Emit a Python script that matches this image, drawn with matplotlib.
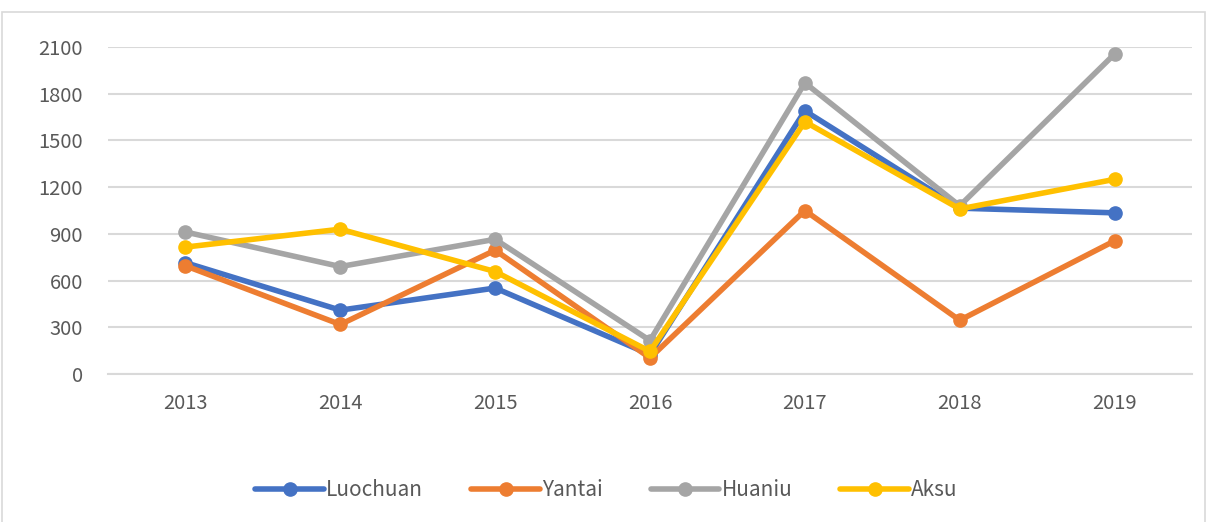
import matplotlib.pyplot as plt
from matplotlib.patches import Rectangle

years = ["2013", "2014", "2015", "2016", "2017", "2018", "2019"]
luochuan = [715, 410, 552, 125, 1690, 1065, 1035]
yantai = [695, 318, 795, 103, 1050, 345, 855]
huaniu = [912, 690, 865, 215, 1870, 1080, 2055]
aksu = [815, 930, 658, 145, 1620, 1060, 1250]

series = [
    ("Luochuan", luochuan, "#4472C4"),
    ("Yantai", yantai, "#ED7D31"),
    ("Huaniu", huaniu, "#A5A5A5"),
    ("Aksu", aksu, "#FFC000"),
]

plt.rcParams["font.family"] = ["Noto Sans CJK SC", "DejaVu Sans"]

fig = plt.figure(figsize=(12.13, 5.22), dpi=100)
ax = fig.add_axes([108 / 1213, 148 / 522, 1084 / 1213, 327 / 522])

x = list(range(len(years)))
for name, vals, color in series:
    ax.plot(x, vals, color=color, linewidth=4, marker="o", markersize=9.5,
            label=name, solid_capstyle="round")

ax.set_xlim(-0.5, len(years) - 0.5)
ax.set_ylim(0, 2100)
ax.set_yticks(range(0, 2101, 300))
ax.set_xticks(x)
ax.set_xticklabels(years)
ax.grid(axis="y", color="#D9D9D9", linewidth=1.5)
ax.set_axisbelow(True)
for s in ["top", "right", "left"]:
    ax.spines[s].set_visible(False)
ax.spines["bottom"].set_color("#D9D9D9")
ax.spines["bottom"].set_linewidth(1.5)
ax.tick_params(length=0, labelsize=14.5, labelcolor="#595959")
ax.tick_params(axis="x", pad=14)
ax.tick_params(axis="y", pad=18)

fig.legend(loc="center", bbox_to_anchor=(0.5, 1 - 490 / 522), ncol=4,
           frameon=False, fontsize=15, labelcolor="#595959",
           handlelength=3.3, handletextpad=0.1, columnspacing=2.3)

fig.add_artist(Rectangle((0.002, -0.01), 0.991, 0.987, transform=fig.transFigure,
                         fill=False, edgecolor="#D9D9D9", linewidth=1.2))

fig.savefig("out.png", dpi=100)
